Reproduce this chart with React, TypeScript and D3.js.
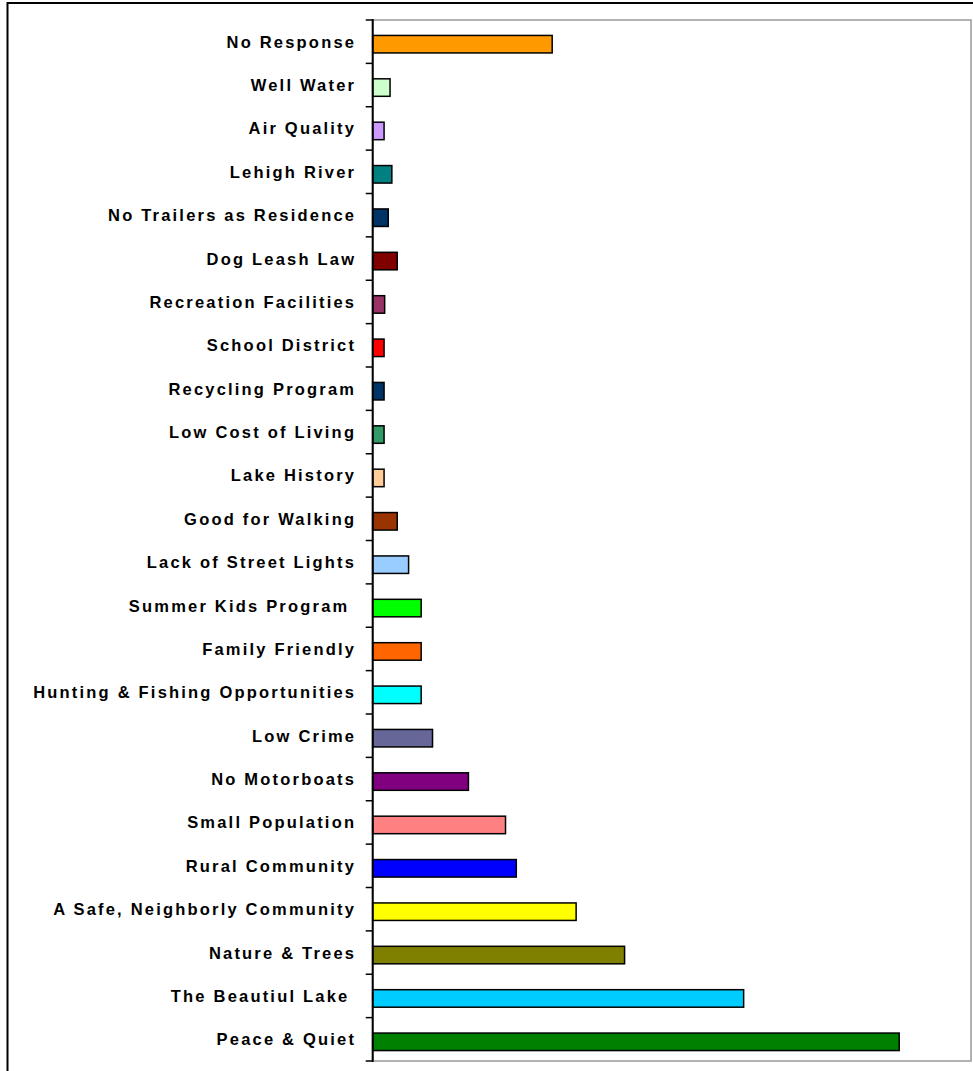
import React from "react";
import * as d3 from "d3";

const categories = [
  "No Response",
  "Well Water",
  "Air Quality",
  "Lehigh River",
  "No Trailers as Residence",
  "Dog Leash Law",
  "Recreation Facilities",
  "School District",
  "Recycling Program",
  "Low Cost of Living",
  "Lake History",
  "Good for Walking",
  "Lack of Street Lights",
  "Summer Kids Program ",
  "Family Friendly",
  "Hunting & Fishing Opportunities",
  "Low Crime",
  "No Motorboats",
  "Small Population",
  "Rural Community",
  "A Safe, Neighborly Community",
  "Nature & Trees",
  "The Beautiul Lake ",
  "Peace & Quiet",
];

const values = [
  15, 1.45, 0.95, 1.6, 1.3, 2.05, 1.0, 0.95, 0.95, 0.95, 0.95, 2.05, 3.0, 4.05,
  4.05, 4.05, 5.0, 8.0, 11.1, 12.0, 17.0, 21.05, 31.0, 44.0,
];

const colors = [
  "#FF9900", "#CCFFCC", "#CC99FF", "#008080", "#003366", "#800000", "#993366",
  "#FF0000", "#003366", "#339966", "#FFCC99", "#993300", "#99CCFF", "#00FF00",
  "#FF6600", "#00FFFF", "#666699", "#800080", "#FF8080", "#0000FF", "#FFFF00",
  "#808000", "#00CCFF", "#008000",
];

const xDomain = [0, 50];

export default function App() {
  const W = 973;
  const H = 1071;
  const left = 372.7;
  const right = 971;
  const top = 20;
  const bottom = 1061;

  const x = d3.scaleLinear().domain(xDomain).range([left, right]);
  const y = d3.scaleBand<string>().domain(categories).range([top, bottom]).padding(0);
  const bw = y.bandwidth();
  const barH = 17.5;

  const ticks = d3.range(categories.length + 1).map((i) => top + i * bw);

  return (
    <div style={{ position: "absolute", left: 0, top: 0 }}>
      <svg width={W} height={H} style={{ display: "block", background: "#fff" }}>
        <rect x={0} y={0} width={W} height={H} fill="#fff" />
        {/* outer frame */}
        <rect x={7.5} y={3} width={1100} height={1200} fill="none" stroke="#000" strokeWidth={2} />
        {/* plot area border */}
        <rect x={left} y={top} width={right - left} height={bottom - top} fill="none" stroke="#999" strokeWidth={1.5} />
        {/* bars */}
        {categories.map((c, i) => {
          const yc = (y(c) as number) + bw / 2;
          return (
            <rect
              key={c}
              x={x(0)}
              y={yc - barH / 2 + 2.5}
              width={x(values[i]) - x(0)}
              height={barH}
              fill={colors[i]}
              stroke="#000"
              strokeWidth={1.5}
            />
          );
        })}
        {/* axis line */}
        <line x1={left} x2={left} y1={top - 1} y2={bottom + 1} stroke="#000" strokeWidth={2} />
        {ticks.map((t, i) => (
          <line key={i} x1={left - 7} x2={left} y1={t} y2={t} stroke="#000" strokeWidth={1.5} />
        ))}
        {/* labels */}
        {categories.map((c) => {
          const yc = (y(c) as number) + bw / 2;
          return (
            <text
              key={c}
              x={356.2}
              y={yc}
              dy="0.36em"
              textAnchor="end"
              fontFamily="'Liberation Sans', Arial, sans-serif"
              fontWeight="bold"
              fontSize={16.5}
              letterSpacing={2.2}
              style={{ whiteSpace: "pre" }}
              fill="#000"
            >
              {c}
            </text>
          );
        })}
      </svg>
    </div>
  );
}
